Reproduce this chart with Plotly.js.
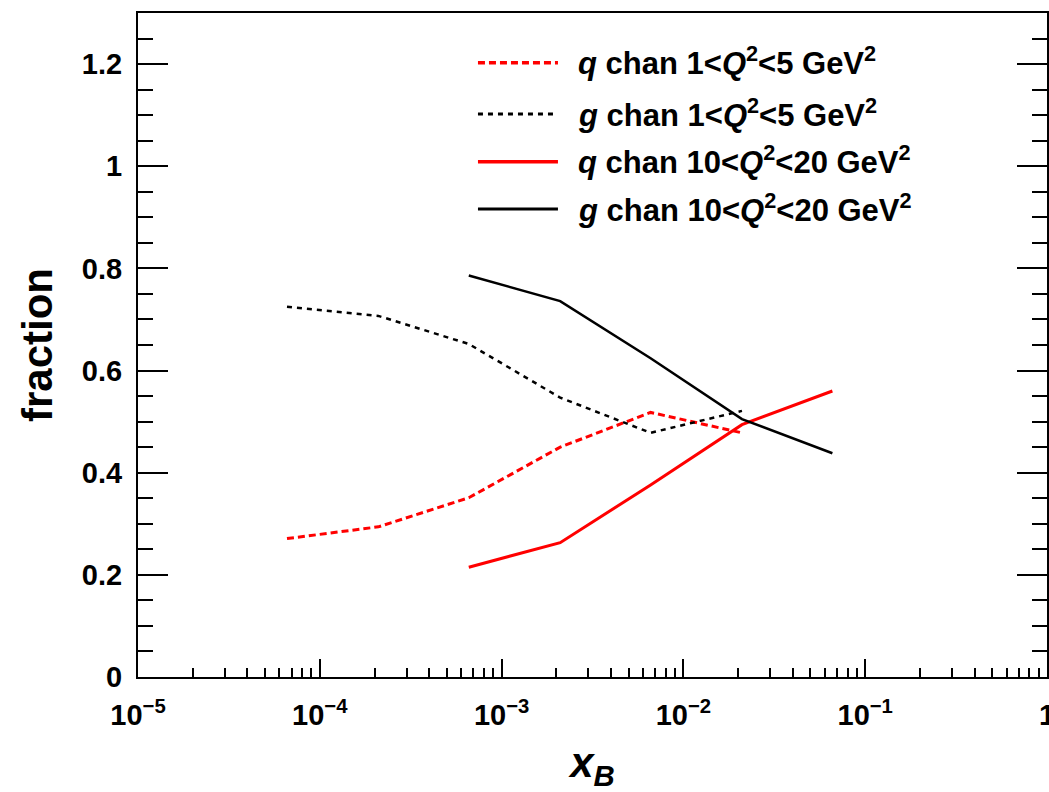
<!DOCTYPE html>
<html>
<head>
<meta charset="utf-8">
<script src="https://cdn.plot.ly/plotly-3.0.1.min.js"></script>
<style>html,body{margin:0;padding:0;background:#fff;}#chart{width:1049px;height:792px;}</style>
</head>
<body>
<div id="chart"></div>
<script>
// x_B bin centres
const xLowQ2 = [6.6e-5, 2.1e-4, 6.6e-4, 2.1e-3, 6.6e-3, 2.1e-2];
const xHighQ2 = [6.6e-4, 2.1e-3, 6.6e-3, 2.1e-2, 6.6e-2];
// fractions, 1<Q^2<5 GeV^2
const qLow = [0.271, 0.294, 0.351, 0.450, 0.518, 0.478];
const gLow = [0.725, 0.707, 0.652, 0.547, 0.478, 0.521];
// fractions, 10<Q^2<20 GeV^2
const qHigh = [0.215, 0.263, 0.376, 0.494, 0.560];
const gHigh = [0.786, 0.736, 0.624, 0.505, 0.438];

const seriesNames = [
  "<i>q</i> chan 1&lt;<i>Q</i><sup>2</sup>&lt;5 GeV<sup>2</sup>",
  "<i>g</i> chan 1&lt;<i>Q</i><sup>2</sup>&lt;5 GeV<sup>2</sup>",
  "<i>q</i> chan 10&lt;<i>Q</i><sup>2</sup>&lt;20 GeV<sup>2</sup>",
  "<i>g</i> chan 10&lt;<i>Q</i><sup>2</sup>&lt;20 GeV<sup>2</sup>"
];
const xTickVals = [1e-5, 1e-4, 1e-3, 1e-2, 1e-1, 1];
const xTickText = ["10<sup>−5</sup>", "10<sup>−4</sup>", "10<sup>−3</sup>", "10<sup>−2</sup>", "10<sup>−1</sup>", "1"];
const yTickVals = [0, 0.2, 0.4, 0.6, 0.8, 1, 1.2];
const yTickText = ["0", "0.2", "0.4", "0.6", "0.8", "1", "1.2"];

const RED = "#ff0000", BLACK = "#000000";
const styles = [
  {color: RED, width: 3, dash: "7px,4px"},
  {color: BLACK, width: 2.5, dash: "5px,5px"},
  {color: RED, width: 3, dash: "solid"},
  {color: BLACK, width: 2.5, dash: "solid"}
];

const traces = [
  {x: xLowQ2, y: qLow, name: seriesNames[0], type: "scatter", mode: "lines", line: styles[0]},
  {x: xLowQ2, y: gLow, name: seriesNames[1], type: "scatter", mode: "lines", line: styles[1]},
  {x: xHighQ2, y: qHigh, name: seriesNames[2], type: "scatter", mode: "lines", line: styles[2]},
  {x: xHighQ2, y: gHigh, name: seriesNames[3], type: "scatter", mode: "lines", line: styles[3]}
];

const FONT = "Liberation Sans, Arial, Helvetica, sans-serif";

// manual legend (ROOT-like long line samples)
const legY = [0.925, 0.848, 0.776, 0.705];
const shapes = [], annotations = [];
for (let i = 0; i < 4; i++) {
  shapes.push({type: "line", xref: "paper", yref: "paper", x0: 0.374, x1: 0.462, y0: legY[i], y1: legY[i],
    line: {color: styles[i].color, width: styles[i].width + 0.5, dash: styles[i].dash}});
  annotations.push({xref: "paper", yref: "paper", x: 0.482, y: legY[i] + 0.002, xanchor: "left", yanchor: "middle",
    showarrow: false, text: seriesNames[i], font: {family: FONT, size: 31, color: "#000", weight: "bold"}});
}

const layout = {
  width: 1049, height: 792,
  margin: {l: 138, r: 2, t: 13, b: 115},
  paper_bgcolor: "#fff", plot_bgcolor: "#fff",
  showlegend: false,
  font: {family: FONT, size: 29, color: "#000", weight: "bold"},
  xaxis: {
    type: "log", range: [-5, 0],
    tickvals: xTickVals, ticktext: xTickText,
    ticks: "inside", ticklen: 18, tickwidth: 2, tickcolor: "#000",
    minor: {ticks: "inside", ticklen: 9, tickwidth: 2, tickcolor: "#000", dtick: "D1", showgrid: false},
    showline: true, linecolor: "#000", linewidth: 2, mirror: true,
    showgrid: false, zeroline: false,
    tickfont: {family: FONT, size: 29, color: "#000", weight: "bold"},
    ticklabelstandoff: 11,
    ticklabeloverflow: "allow",
    title: {text: "<i>x</i><sub><i>B</i></sub>", font: {family: FONT, size: 42, color: "#000", weight: "bold"}, standoff: 20}
  },
  yaxis: {
    range: [0, 1.3],
    tickvals: yTickVals, ticktext: yTickText,
    ticks: "inside", ticklen: 30, tickwidth: 2, tickcolor: "#000",
    minor: {ticks: "inside", ticklen: 15, tickwidth: 2, tickcolor: "#000", dtick: 0.05, showgrid: false},
    showline: true, linecolor: "#000", linewidth: 2, mirror: "ticks",
    showgrid: false, zeroline: false,
    tickfont: {family: FONT, size: 29, color: "#000", weight: "bold"},
    ticklabelstandoff: 8,
    title: {text: "fraction", font: {family: FONT, size: 42, color: "#000", weight: "bold"}, standoff: 16}
  },
  shapes: shapes,
  annotations: annotations
};

Plotly.newPlot("chart", traces, layout, {displayModeBar: false, staticPlot: true});
</script>
</body>
</html>
